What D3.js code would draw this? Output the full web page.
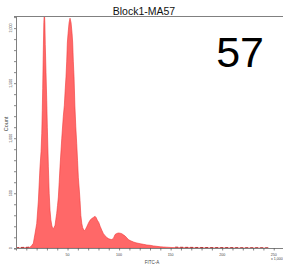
<!DOCTYPE html>
<html>
<head>
<meta charset="utf-8">
<script src="https://cdn.jsdelivr.net/npm/d3@7"></script>
<style>
  body { margin: 0; background: #fff; }
  text { font-family: "Liberation Sans", Arial, sans-serif; }
</style>
</head>
<body>
<div id="container"></div>
<script>
// 画布
let width = 283;
let height = 270;
let margin = { top: 16, right: 0, bottom: 22, left: 16 };

// 数据 (FITC-A 以千为单位)
let fitc = [0, 3.9, 8.7, 11.7, 13.6, 15.2, 16.8, 18.4, 20.1, 21.7, 23.3, 24.3, 25.0, 25.5, 25.9, 26.5, 27.0, 27.5,
  28.0, 28.4, 29.1, 29.8, 30.4, 31.4, 32.2, 33.0, 33.8, 34.7, 35.4, 36.2, 36.9, 37.9, 38.6, 39.5, 40.3, 41.1, 41.9,
  42.7, 44.4, 45.9, 46.9, 47.6, 48.5, 49.2, 49.8, 50.5, 51.5, 52.4, 53.4, 54.4, 55.0, 55.6, 56.3, 57.1, 58.0, 58.9,
  59.7, 60.5, 61.4, 62.1, 62.9, 63.8, 64.6, 65.3, 66.2, 67.0, 68.6, 70.2, 71.8, 73.5, 75.0, 76.7, 77.7, 78.9, 80.3,
  81.6, 83.2, 84.8, 86.4, 88.1, 89.6, 91.3, 92.9, 94.5, 96.1, 97.8, 99.3, 101.0, 102.6, 104.2, 105.8, 107.5, 109.0,
  110.7, 112.3, 113.9, 115.5, 117.2, 120.4, 123.6, 126.9, 130.1, 133.3, 136.6, 139.8, 143.0, 146.3, 149.5, 154.4,
  159.2, 164.1, 168.9, 173.8, 178.6, 188.3, 198.1, 207.8, 217.5, 227.2, 235.0, 245.0];
let counts = [0, 3, 4, 5, 10, 25, 45, 130, 225, 430, 740, 880, 1045, 1250, 1450, 1800, 2050, 2150,
  2050, 1850, 1600, 1345, 1100, 740, 500, 345, 260, 209, 185, 179, 190, 209, 260, 318, 390, 466, 600,
  740, 1000, 1200, 1300, 1420, 1557, 1700, 1864, 1950, 2050, 2090, 2050, 1950, 1864, 1700, 1557, 1300, 1103, 950,
  800, 640, 530, 436, 300, 227, 190, 175, 160, 165, 194, 227, 255, 270, 280, 290, 280, 255, 235,
  200, 165, 133, 115, 97, 88, 82, 80, 90, 125, 135, 139, 137, 133, 122, 112, 95, 79,
  70, 64, 58, 52, 48, 42, 36, 30, 27, 22, 18, 14, 12, 10, 8, 6,
  5, 4, 4, 3, 3, 2, 2, 2, 1, 1, 1, 0];

let yMajor = [0, 500, 1000, 1500, 2000];
let xMajor = [50, 100, 150, 200, 250];

let svg = d3.create('svg').attr('width', width).attr('height', height);

let innerBottom = height - margin.bottom;
let x = d3.scaleLinear().domain([0, 259]).range([margin.left, width - margin.right]);
let y = d3.scaleLinear().domain([0, 2110]).range([innerBottom + 0.3, margin.top]);

let data = fitc.map((d, i) => ({ x: d, y: counts[i] }));

// 裁剪
svg.append('clipPath').attr('id', 'plot')
  .append('rect')
  .attr('x', margin.left).attr('y', margin.top)
  .attr('width', width - margin.left).attr('height', innerBottom - margin.top + 1);

// 直方图
svg.append('path')
  .datum(data)
  .attr('clip-path', 'url(#plot)')
  .attr('fill', '#ff6868')
  .attr('stroke', '#f03838')
  .attr('stroke-width', 0.6)
  .attr('d', d3.area().x(d => x(d.x)).y0(y(0)).y1(d => y(d.y)));

// 基线上的深红色
svg.append('path')
  .datum(data.filter(d => d.y < 12))
  .attr('fill', 'none')
  .attr('stroke', '#a01818')
  .attr('stroke-width', 0.8)
  .attr('stroke-dasharray', '3,2')
  .attr('d', d3.line().x(d => x(d.x)).y(d => y(d.y) - 0.5).defined(d => d.x < 14 || d.x > 150));

// 坐标轴
let axisColor = '#808080';
let yAxis = d3.axisLeft(y).tickValues(d3.range(0, 2101, 100)).tickSize(2).tickFormat('');
let gy = svg.append('g').attr('transform', `translate(${margin.left},0)`).call(yAxis);
let xAxis = d3.axisBottom(x).tickValues(d3.range(10, 260, 10)).tickSize(2.5).tickFormat('');
let gx = svg.append('g').attr('transform', `translate(0,${innerBottom})`).call(xAxis);
[gx, gy].forEach(g => {
  g.select('.domain').attr('stroke', axisColor).attr('stroke-width', 1);
  g.selectAll('.tick line').attr('stroke', '#555').attr('stroke-width', 0.7);
});

// 上边框
svg.append('line')
  .attr('x1', margin.left).attr('x2', width)
  .attr('y1', margin.top + 0.5).attr('y2', margin.top + 0.5)
  .attr('stroke', axisColor);

// 刻度标签
svg.selectAll('.ylab')
  .data(yMajor)
  .enter()
  .append('text')
  .attr('transform', d => `translate(12,${y(d)}) rotate(-90)`)
  .attr('text-anchor', 'middle')
  .attr('font-size', '3.6px')
  .attr('fill', '#444')
  .text(d => d3.format(',')(d));

svg.selectAll('.xlab')
  .data(xMajor)
  .enter()
  .append('text')
  .attr('x', d => x(d))
  .attr('y', innerBottom + 8)
  .attr('text-anchor', 'middle')
  .attr('font-size', '3.6px')
  .attr('fill', '#444')
  .text(d => d);

svg.append('text')
  .attr('x', 271).attr('y', innerBottom + 12)
  .attr('font-size', '3.6px')
  .attr('fill', '#444')
  .text('x 1,000');

svg.append('text')
  .attr('x', 152).attr('y', innerBottom + 16)
  .attr('text-anchor', 'middle')
  .attr('font-size', '4.5px')
  .attr('fill', '#444')
  .text('FITC-A');

svg.append('text')
  .attr('transform', 'translate(7.5,124) rotate(-90)')
  .attr('text-anchor', 'middle')
  .attr('font-size', '5.5px')
  .attr('fill', '#444')
  .text('Count');

// 标题
svg.append('text')
  .attr('x', 144).attr('y', 14.5)
  .attr('text-anchor', 'middle')
  .attr('font-size', '10.5px')
  .attr('fill', '#111')
  .text('Block1-MA57');

svg.append('text')
  .attr('x', 264).attr('y', 67)
  .attr('text-anchor', 'end')
  .attr('font-size', '43px')
  .attr('fill', '#000')
  .text('57');

d3.select('#container').append(() => svg.node());
</script>
</body>
</html>
